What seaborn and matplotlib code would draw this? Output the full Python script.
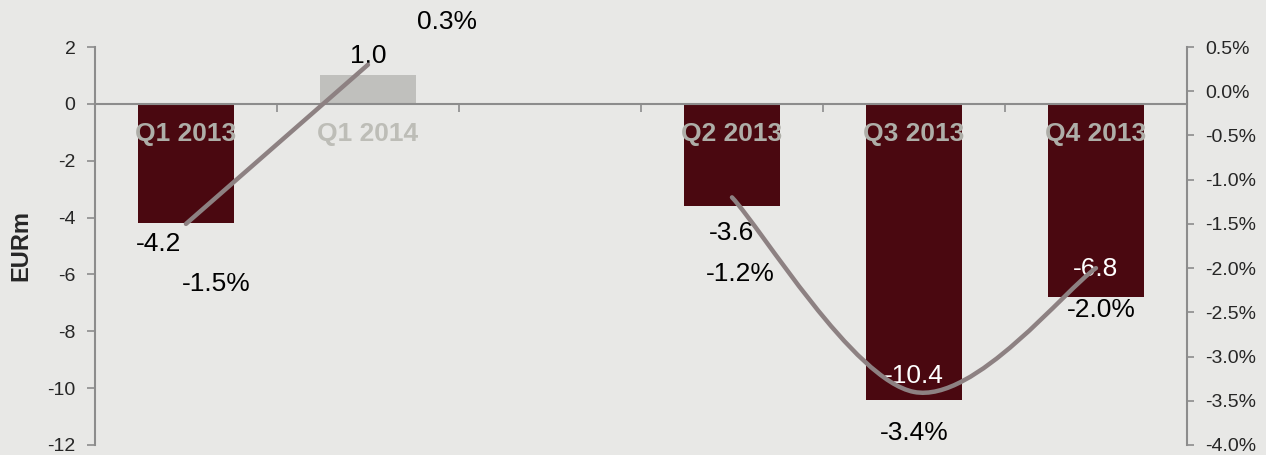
import numpy as np
import pandas as pd
import matplotlib
matplotlib.use("Agg")
import matplotlib.pyplot as plt
import seaborn as sns
from matplotlib.path import Path
from matplotlib.patches import PathPatch
from matplotlib.ticker import FuncFormatter, MultipleLocator

# donnees
quarters = ["Q1 2013", "Q1 2014", " ", "Q2 2013", "Q3 2013", "Q4 2013"]
eur_m = [-4.2, 1.0, np.nan, -3.6, -10.4, -6.8]
margin_pct = [-1.5, 0.3, np.nan, -1.2, -3.4, -2.0]
eur_labels = ["-4.2", "1.0", "", "-3.6", "-10.4", "-6.8"]
pct_labels = ["-1.5%", "0.3%", "", "-1.2%", "-3.4%", "-2.0%"]

BG = "#e8e8e6"
MAROON = "#4a0810"
LIGHT = "#c0c0bd"
LINE = "#8d8182"
AXIS = "#8c8c8c"

sns.set_style("white")
plt.rcParams["font.family"] = ["Liberation Sans", "DejaVu Sans"]
plt.rcParams["axes.unicode_minus"] = False

df = pd.DataFrame({"quarter": quarters, "eur": eur_m, "pct": margin_pct})
pal = {q: MAROON for q in quarters}
pal["Q1 2014"] = LIGHT

fig = plt.figure(figsize=(12.66, 4.55), dpi=100)
fig.patch.set_facecolor(BG)
ax = fig.add_axes([0.075, 0.022, 0.8626, 0.8747])
ax.set_facecolor(BG)

sns.barplot(data=df.dropna(), x="quarter", y="eur", hue="quarter", order=quarters,
            hue_order=quarters, palette=pal, width=0.53, dodge=False, legend=False,
            saturation=1, linewidth=0, ax=ax)
ax.set_axisbelow(False)

ax.set_ylim(-12, 2)
ax.set_xlim(-0.5, len(quarters) - 0.5)
ax.yaxis.set_major_locator(MultipleLocator(2))
ax.set_ylabel("EURm", fontsize=17, fontweight="bold")
ax.yaxis.set_label_coords(-0.057, 0.5)
ax.set_xlabel("")

for s in ["top", "right"]:
    ax.spines[s].set_visible(False)
ax.spines["left"].set_color(AXIS)
ax.spines["left"].set_linewidth(1.5)
ax.spines["bottom"].set_position(("data", 0))
ax.spines["bottom"].set_color(AXIS)
ax.spines["bottom"].set_linewidth(1.5)
ax.tick_params(axis="y", direction="out", length=6, width=1.2, color=AXIS,
               labelsize=14, pad=8, left=True)
ax.set_xticks(range(len(quarters)))
ax.set_xticklabels([q.strip() for q in quarters], fontsize=19, fontweight="bold",
                   color="#aeaea8")
ax.get_xticklabels()[1].set_color("#bdbdb7")
ax.set_xticks(np.arange(0.5, len(quarters) - 0.5, 1), minor=True)
ax.tick_params(axis="x", which="major", length=0, pad=13, bottom=True)
ax.tick_params(axis="x", which="minor", direction="out", length=6, width=1.2,
               color=AXIS, bottom=True)

# etiquettes des barres
eur_off = [(-27, -21), (0, 19), None, (0, -27), (0, 24), (0, 28)]
eur_col = ["black", "black", None, "black", "white", "white"]
for i, v in enumerate(eur_m):
    if np.isnan(v):
        continue
    ax.annotate(eur_labels[i], (i, v), xytext=eur_off[i], textcoords="offset pixels",
                ha="center", va="center", fontsize=19, color=eur_col[i])

# axe secondaire
ax2 = ax.twinx()
ax2.set_ylim(-4.0, 0.5)
ax2.yaxis.set_major_locator(MultipleLocator(0.5))
ax2.yaxis.set_major_formatter(FuncFormatter(lambda v, p: f"{v:.1f}%"))
for s in ["top", "left", "bottom"]:
    ax2.spines[s].set_visible(False)
ax2.spines["right"].set_color(AXIS)
ax2.spines["right"].set_linewidth(1.5)
ax2.tick_params(axis="y", direction="out", length=5, width=1.2, color=AXIS,
                labelsize=14, pad=8, right=True)

# ligne 2 points (droite)
seg1 = df.iloc[0:2].copy()
seg1["x"] = [0, 1]
sns.lineplot(data=seg1, x="x", y="pct", ax=ax2, color=LINE, linewidth=3.2,
             solid_capstyle="round")
ax2.set_xlabel("")
ax2.set_ylabel("")

# ligne lissee (style Excel)
pts = [(i, margin_pct[i]) for i in range(3, 6)]
verts = [pts[0]]
codes = [Path.MOVETO]
for k in range(len(pts) - 1):
    p0 = np.array(pts[k - 1] if k > 0 else pts[k])
    p1 = np.array(pts[k])
    p2 = np.array(pts[k + 1])
    p3 = np.array(pts[k + 2] if k + 2 < len(pts) else pts[k + 1])
    c1 = p1 + (p2 - p0) / 6
    c2 = p2 - (p3 - p1) / 6
    verts += [tuple(c1), tuple(c2), tuple(p2)]
    codes += [Path.CURVE4] * 3
ax2.add_patch(PathPatch(Path(verts, codes), facecolor="none", edgecolor=LINE,
                        linewidth=3.2, capstyle="round"))

pct_off = [(30, -60), (79, 43), None, (8, -77), (0, -41), (5, -42)]
for i, v in enumerate(margin_pct):
    if np.isnan(v):
        continue
    ax2.annotate(pct_labels[i], (i, v), xytext=pct_off[i], textcoords="offset pixels",
                 ha="center", va="center", fontsize=19, color="black",
                 annotation_clip=False)

ax2.set_xlim(-0.5, len(quarters) - 0.5)

fig.savefig("out.png", dpi=100, facecolor=BG)
